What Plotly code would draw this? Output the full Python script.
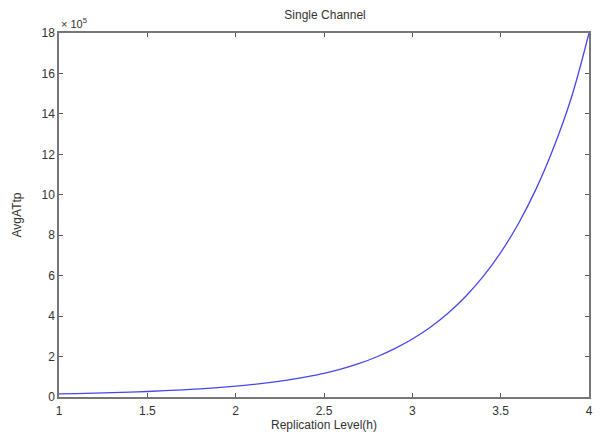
import plotly.graph_objects as go

# Replication level (h) and average ATtp (x 10^5)
replication_level = [1.0, 1.1, 1.2, 1.3, 1.4, 1.5, 1.6, 1.7, 1.8, 1.9, 2.0,
                     2.1, 2.2, 2.3, 2.4, 2.5, 2.6, 2.7, 2.8, 2.9, 3.0,
                     3.1, 3.2, 3.3, 3.4, 3.5, 3.6, 3.7, 3.8, 3.9, 4.0]
avg_attp = [0.15, 0.168, 0.189, 0.213, 0.241, 0.273, 0.311, 0.355, 0.406, 0.467, 0.539,
            0.625, 0.727, 0.849, 0.995, 1.17, 1.39, 1.66, 1.99, 2.39, 2.87,
            3.44, 4.13, 4.96, 5.95, 7.14, 8.57, 10.28, 12.34, 14.8, 18.0]

x_ticks = [1, 1.5, 2, 2.5, 3, 3.5, 4]
y_ticks = [0, 2, 4, 6, 8, 10, 12, 14, 16, 18]

FONT = "Liberation Sans, Arial, sans-serif"
TXT = "#333333"

fig = go.Figure(go.Scatter(
    x=replication_level, y=avg_attp, mode="lines", line_shape="spline",
    line=dict(color="#4646f0", width=1.3, smoothing=1.0), showlegend=False))

axis_common = dict(
    showgrid=False, zeroline=False, showline=True, linecolor="#777777",
    linewidth=1.5, mirror="ticks", ticks="inside", ticklen=4,
    tickcolor="#555555", tickfont=dict(size=12, color=TXT, family=FONT),
    automargin=False)

fig.update_xaxes(range=[1, 4], tickvals=x_ticks, ticklabelstandoff=2,
                 title=dict(text="Replication Level(h)", standoff=2,
                            font=dict(size=12, color=TXT, family=FONT)),
                 **axis_common)
fig.update_yaxes(range=[0, 18], tickvals=y_ticks,
                 title=dict(text="AvgATtp", standoff=17,
                            font=dict(size=12, color=TXT, family=FONT)),
                 **axis_common)

fig.add_annotation(x=0, y=1, xref="paper", yref="paper", xanchor="left",
                   yanchor="bottom", yshift=1, showarrow=False,
                   text="× 10<sup>5</sup>", font=dict(size=11, color=TXT, family=FONT))

# page body has an 8px margin, so the figure is sized to the visible area
fig.update_layout(
    width=595, height=432,
    title=dict(text="Single Channel", xref="paper", x=0.502, xanchor="center",
               yref="container", y=0.984, yanchor="middle",
               font=dict(size=12, color=TXT, family=FONT)),
    margin=dict(l=51, r=14, t=25, b=43),
    paper_bgcolor="white", plot_bgcolor="white",
)

fig.write_html("out.html")
